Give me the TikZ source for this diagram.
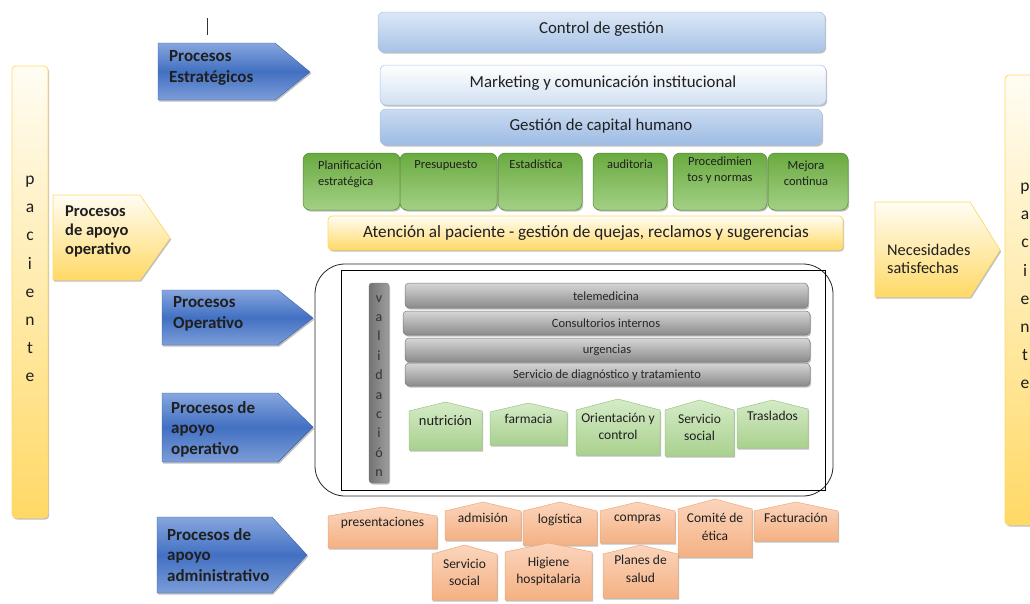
\documentclass[tikz,border=0pt]{standalone}
\usepackage{fontspec}
\setmainfont{Carlito}
\usetikzlibrary{shadows}
\definecolor{arrtop}{HTML}{86A6DE}
\definecolor{arrmid}{HTML}{4270C2}
\definecolor{arrbot}{HTML}{7C9DD8}
\definecolor{arredge}{HTML}{3A62AC}
\definecolor{yelltop}{HTML}{FFFDF4}
\definecolor{yellbot}{HTML}{FFD966}
\definecolor{yelledge}{HTML}{FFD966}
\definecolor{grtop}{HTML}{6AAA40}
\definecolor{grbot}{HTML}{A3D085}
\definecolor{gredge}{HTML}{4E8A2C}
\definecolor{lgtop}{HTML}{D5EBC8}
\definecolor{lgbot}{HTML}{A9D18E}
\definecolor{lgedge}{HTML}{9CC582}
\definecolor{ortop}{HTML}{FBD5BD}
\definecolor{orbot}{HTML}{F4B183}
\definecolor{oredge}{HTML}{F2A874}
\definecolor{gytop}{HTML}{D6D6D6}
\definecolor{gybot}{HTML}{8A8A8A}
\definecolor{gyedge}{HTML}{7A7A7A}
\definecolor{bedge}{HTML}{A9C2E4}
\definecolor{c1top}{HTML}{DCE8F6}
\definecolor{c1bot}{HTML}{A7C2E6}
\definecolor{c2top}{HTML}{FFFFFF}
\definecolor{c2bot}{HTML}{D0E0F3}
\definecolor{c3top}{HTML}{CADBF1}
\definecolor{c3bot}{HTML}{9DBBE3}
\definecolor{txt}{HTML}{1F1F1F}
\tikzset{
  shad/.style={drop shadow={shadow xshift=1.2pt,shadow yshift=-1.6pt,opacity=0.35,fill=black!70}},
  bluearrow/.style={shad,draw=arredge,line width=0.4pt,top color=arrtop,bottom color=arrbot,middle color=arrmid},
  yellarrow/.style={shad,draw=yelledge,line width=0.6pt,top color=yelltop,bottom color=yellbot},
  yellbar/.style={shad,draw=yelledge,line width=0.8pt,rounded corners=4pt,top color=yelltop,bottom color=yellbot},
  topbox/.style={shad,rounded corners=6pt,draw=bedge,line width=0.5pt},
  greenbox/.style={shad,rounded corners=7pt,draw=gredge,line width=0.5pt,top color=grtop,bottom color=grbot},
  lghouse/.style={shad,draw=lgedge,line width=0.5pt,top color=lgtop,bottom color=lgbot},
  orhouse/.style={shad,draw=oredge,line width=0.5pt,top color=ortop,bottom color=orbot},
  graybar/.style={shad,rounded corners=4pt,draw=gyedge,line width=0.5pt,top color=gytop,bottom color=gybot},
  lbl/.style={inner sep=0pt,text=txt},
  arrlbl/.style={lbl,anchor=west,align=left,font=\fontsize{17}{20.5}\selectfont\bfseries},
  toplbl/.style={lbl,font=\fontsize{16.8}{18}\selectfont},
  grlbl/.style={lbl,anchor=north,align=center,font=\fontsize{12.5}{16}\selectfont},
  barlbl/.style={lbl,font=\fontsize{12.5}{14}\selectfont,text=black!85},
  hslbl/.style={lbl,anchor=north,align=center,font=\fontsize{13.5}{17.5}\selectfont},
  letters/.style={lbl,align=center,font=\fontsize{17.5}{28.2}\selectfont},
}
% house shape: name, x1, x2, ypeak, yshoulder, ybottom, style, text, label y
\newcommand\housebox[9]{%
  \path[#7] (#2,#5) -- ({(#2+#3)/2},#4) -- (#3,#5) -- (#3,#6) -- (#2,#6) -- cycle;
  \node[hslbl] (#1) at ({(#2+#3)/2},#9) {#8};
}
\begin{document}
\begin{tikzpicture}[x=1pt,y=-1pt]
\useasboundingbox (0,0) rectangle (1030,603);
\clip (0,0) rectangle (1030,603);
\fill[white] (0,0) rectangle (1030,603);

% small vertical mark
\coordinate (m1) at (207,18);
\coordinate (m2) at (207,35);
\draw[line width=0.9pt,black!80] (m1) -- (m2);

% patient bars
\path[yellbar] (12,66) rectangle (48,518);
\node[letters] (pacL) at (30,279) {p\\a\\c\\i\\e\\n\\t\\e};
\path[yellbar] (1005,75) rectangle (1045,525);
\node[letters] (pacR) at (1025,286) {p\\a\\c\\i\\e\\n\\t\\e};

% left yellow arrow
\path[yellarrow] (53,195) -- (140,195) -- (170,238) -- (140,280) -- (53,280) -- cycle;
\node[arrlbl,font=\fontsize{16.5}{19}\selectfont\bfseries] (apoyoL) at (65,231) {Procesos\\de apoyo\\operativo};

% right yellow arrow
\path[yellarrow] (875,202) -- (970,202) -- (1000,250) -- (970,297) -- (875,297) -- cycle;
\node[lbl,anchor=west,align=left,font=\fontsize{16.3}{18.5}\selectfont] (neces) at (887,259) {Necesidades\\satisfechas};

% blue arrows
\path[bluearrow] (158,43) -- (275,43) -- (310,72) -- (275,100) -- (158,100) -- cycle;
\node[arrlbl] (estr) at (169,68) {Procesos\\Estratégicos};
\path[bluearrow] (162,290) -- (278,290) -- (313,318) -- (278,345) -- (162,345) -- cycle;
\node[arrlbl] (oper) at (173,314) {Procesos\\Operativo};
\path[bluearrow] (162,393) -- (278,393) -- (313,427) -- (278,462) -- (162,462) -- cycle;
\node[arrlbl] (apoyo) at (171,429) {Procesos de\\apoyo\\operativo};
\path[bluearrow] (157,517) -- (272,517) -- (307,555) -- (272,593) -- (157,593) -- cycle;
\node[arrlbl] (admin) at (167,555) {Procesos de\\apoyo\\administrativo};

% top strategic boxes
\path[topbox,top color=c1top,bottom color=c1bot] (378,12) rectangle (825,52);
\node[toplbl] (ctrl) at (601.5,29) {Control de gestión};
\path[topbox,top color=c2top,bottom color=c2bot] (380,65) rectangle (826,105);
\node[toplbl] (mkt) at (603,83) {Marketing y comunicación institucional};
\path[topbox,top color=c3top,bottom color=c3bot] (380,109) rectangle (822,145);
\node[toplbl] (gch) at (601,126) {Gestión de capital humano};

% green boxes
\path[greenbox] (303,153) rectangle (400,210);
\node[grlbl,align=left] (plan) at (350,161) {Planificación\\estratégica};
\path[greenbox] (400,153) rectangle (497,210);
\node[grlbl] (pres) at (446,160) {Presupuesto};
\path[greenbox] (498,153) rectangle (582,210);
\node[grlbl] (estad) at (536,160) {Estadística};
\path[greenbox] (593,153) rectangle (667,210);
\node[grlbl] (aud) at (630,160) {auditoria};
\path[greenbox] (673,153) rectangle (767,210);
\node[grlbl] (proc) at (720,157) {Procedimien\\tos y normas};
\path[greenbox] (768,153) rectangle (848,210);
\node[grlbl] (mejora) at (806,161) {Mejora\\continua};

% atencion bar
\path[yellbar] (328,216) rectangle (843,250);
\node[lbl,font=\fontsize{17.2}{18}\selectfont] (atenc) at (586,233) {Atención al paciente - gestión de quejas, reclamos y sugerencias};

% operative frame
\draw[line width=0.8pt,black!85,rounded corners=30pt] (315,264) rectangle (833,496);
\draw[line width=0.8pt,black] (341,270) rectangle (825,490);

% validacion bar
\path[shad,rounded corners=3pt,draw=gyedge,line width=0.4pt,left color=black!55,right color=black!38] (369,283) rectangle (389,483);
\begin{scope}
\clip (369,283) rectangle (389,481);
\node[lbl,align=center,font=\fontsize{14}{19.4}\selectfont,text=black!80] (valid) at (379,386) {v\\a\\l\\i\\d\\a\\c\\i\\ó\\n};
\end{scope}

% gray bars
\path[graybar] (405,283) rectangle (808,308);
\node[barlbl] (tele) at (606,296) {telemedicina};
\path[graybar] (403,311) rectangle (810,335);
\node[barlbl] (cons) at (606,323) {Consultorios internos};
\path[graybar] (405,338) rectangle (810,362);
\node[barlbl] (urg) at (607,350) {urgencias};
\path[graybar] (405,363) rectangle (810,386);
\node[barlbl] (diag) at (607,375) {Servicio de diagnóstico y tratamiento};

% light green houses
\housebox{nutr}{409}{482}{402}{411}{450}{lghouse}{\fontsize{14.5}{17}\selectfont nutrición}{415}
\housebox{farm}{490}{567}{403}{412}{445}{lghouse}{farmacia}{414}
\housebox{orient}{576}{660}{399}{410}{455}{lghouse}{Orientación y\\control}{413}
\housebox{servs}{665}{734}{400}{410}{456}{lghouse}{Servicio\\social}{414}
\housebox{trasl}{737}{808}{400}{409}{448}{lghouse}{Traslados}{411}

% orange houses
\housebox{present}{328}{437}{507}{516}{548}{orhouse}{presentaciones}{517}
\housebox{admis}{445}{521}{502}{511}{540}{orhouse}{admisión}{513}
\housebox{logist}{523}{597}{502}{511}{545}{orhouse}{logística}{514}
\housebox{compras}{600}{675}{502}{511}{543}{orhouse}{compras}{515}
\housebox{comite}{678}{752}{499}{509}{557}{orhouse}{Comité de\\ética}{513}
\housebox{fact}{754}{838}{502}{511}{541}{orhouse}{Facturación}{513}
\housebox{servs2}{432}{497}{545}{554}{600}{orhouse}{Servicio\\social}{559}
\housebox{higiene}{505}{592}{543}{552}{600}{orhouse}{Higiene\\hospitalaria}{557}
\housebox{planes}{603}{678}{545}{554}{598}{orhouse}{Planes de\\salud}{555}
\end{tikzpicture}
\end{document}
